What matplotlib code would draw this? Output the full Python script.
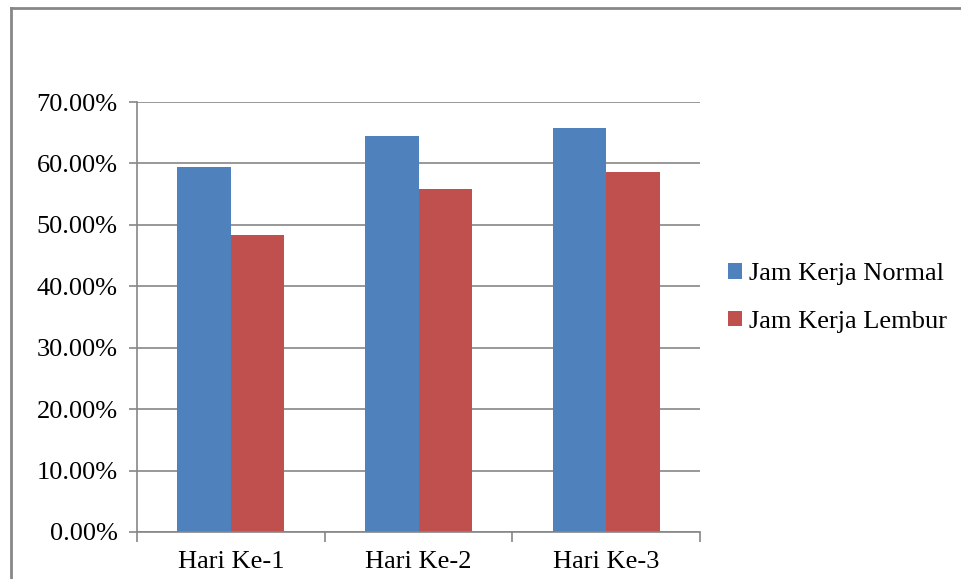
import matplotlib.pyplot as plt
import numpy as np
from matplotlib.lines import Line2D
from matplotlib.ticker import FuncFormatter, FixedLocator

# data
categories = ['Hari Ke-1', 'Hari Ke-2', 'Hari Ke-3']
series_names = ['Jam Kerja Normal', 'Jam Kerja Lembur']
normal = [59.4, 64.4, 65.7]
lembur = [48.3, 55.9, 58.6]
colors = ['#4F81BD', '#C0504D']

plt.rcParams['font.family'] = ['Liberation Serif', 'DejaVu Serif']
grey = '#868686'

fig = plt.figure(figsize=(9.61, 5.79), dpi=100)
ax = fig.add_axes([137 / 961, 1 - 532 / 579, (700 - 137) / 961, (532 - 102) / 579])

x = np.arange(len(categories))
w = 1 / 3.5
ax.bar(x - w / 2, normal, w, color=colors[0], label=series_names[0])
ax.bar(x + w / 2, lembur, w, color=colors[1], label=series_names[1])

ax.set_xlim(-0.5, len(categories) - 0.5)
ax.set_ylim(0, 70)
ax.set_yticks(np.arange(0, 71, 10))
ax.yaxis.set_major_formatter(FuncFormatter(lambda v, p: f'{v:.2f}%'))
ax.yaxis.grid(True, color=grey, linewidth=1.2)
ax.set_axisbelow(True)

ax.set_xticks(x)
ax.set_xticklabels(categories)
ax.xaxis.set_minor_locator(FixedLocator(np.arange(-0.5, len(categories), 1)))
ax.tick_params(axis='x', which='major', length=0, pad=14, labelsize=19)
ax.tick_params(axis='x', which='minor', length=7, color=grey, width=1.2)
ax.tick_params(axis='y', length=6, color=grey, width=1.2, pad=8, labelsize=19)

for side in ['top', 'right']:
    ax.spines[side].set_visible(False)
for side in ['left', 'bottom']:
    ax.spines[side].set_color(grey)
    ax.spines[side].set_linewidth(1.2)

fig.legend(loc='center left', bbox_to_anchor=(704 / 961, 1 - 298 / 579),
           frameon=False, fontsize=19, handlelength=0.55, handleheight=0.55,
           handletextpad=0.25, labelspacing=0.95)

# chart area border (top and left only visible)
fig.add_artist(Line2D([11 / 961, 11 / 961], [0, 1 - 8 / 579], transform=fig.transFigure,
                      color='#878787', linewidth=2))
fig.add_artist(Line2D([11 / 961, 1], [1 - 8 / 579, 1 - 8 / 579], transform=fig.transFigure,
                      color='#878787', linewidth=2))

plt.savefig('out.png')
